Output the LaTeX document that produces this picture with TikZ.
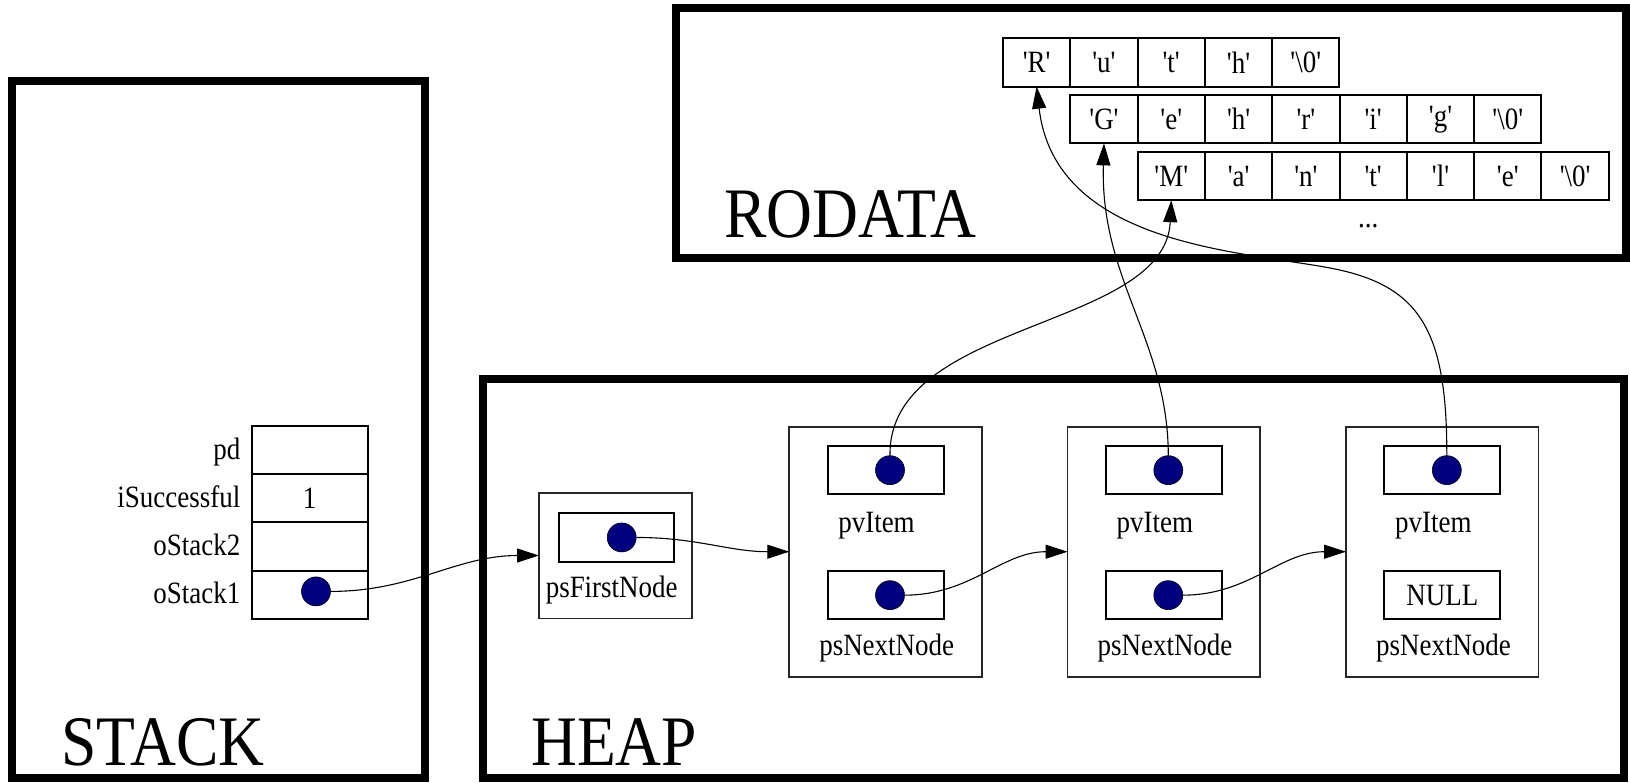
\documentclass[tikz,border=0pt]{standalone}
\usepackage{fontspec}
\setmainfont{Liberation Serif}
\newfontfamily\memfont[FakeStretch=0.87,Ligatures=TeXOff]{Liberation Serif}
\newfontfamily\regionfont[FakeStretch=0.895,Ligatures=TeXOff]{Liberation Serif}
\usepackage{tikz}
\usetikzlibrary{arrows.meta,positioning,calc}
\definecolor{dotblue}{RGB}{0,0,128}

\begin{document}
\begin{tikzpicture}[
    x=1pt, y=-1pt,
    regionbox/.style={draw=black, line width=8pt},
    regionlabel/.style={font=\regionfont\fontsize{71}{71}\selectfont, inner sep=0pt, anchor=base west},
    cellbox/.style={rectangle, draw=black, line width=2pt, minimum width=116pt, minimum height=48.3pt, inner sep=0pt, outer sep=0pt, font=\memfont\fontsize{31}{31}\selectfont},
    charcell/.style={rectangle, draw=black, line width=2pt, minimum width=67.3pt, minimum height=48.3pt, inner sep=0pt, outer sep=0pt, font=\memfont\fontsize{31}{31}\selectfont},
    listnode/.style={rectangle, draw=black!85, line width=1.6pt, minimum width=192.5pt, minimum height=250pt, inner sep=0pt, outer sep=0pt},
    fieldtext/.style={font=\memfont\fontsize{31}{31}\selectfont, inner sep=0pt},
    dotnode/.style={circle, draw=black, line width=0.6pt, fill=dotblue, minimum size=29pt, inner sep=0pt},
    arrow/.style={-{Triangle[length=22pt,width=14pt]}, line width=1.1pt}
]
    \useasboundingbox (0,0) rectangle (1630,782);

    % memory regions
    \draw [regionbox] (12,81) rectangle (425,778);
    \draw [regionbox] (483,379) rectangle (1624,778);
    \draw [regionbox] (676,8.3) rectangle (1626,257.5);
    \node [regionlabel] (stacklbl) at (61,765) {STACK};
    \node [regionlabel] (heaplbl) at (531,765) {HEAP};
    \node [regionlabel] (rodatalbl) at (724,237) {RODATA};

    % stack frame
    \node [cellbox] (pd) at (309.5,450) {};
    \node [cellbox, below=0pt of pd] (isucc) {1};
    \node [cellbox, below=0pt of isucc] (ostk2) {};
    \node [cellbox, below=0pt of ostk2] (ostk1) {};
    \node [fieldtext, anchor=base east] (pdlbl) at ([xshift=-11pt,yshift=-9pt]pd.west) {pd};
    \node [fieldtext, anchor=base east] (isucclbl) at ([xshift=-11pt,yshift=-9pt]isucc.west) {iSuccessful};
    \node [fieldtext, anchor=base east] (ostk2lbl) at ([xshift=-11pt,yshift=-9pt]ostk2.west) {oStack2};
    \node [fieldtext, anchor=base east] (ostk1lbl) at ([xshift=-11pt,yshift=-9pt]ostk1.west) {oStack1};
    \node [dotnode] (sdot) at ([xshift=6.5pt,yshift=3.5pt]ostk1.center) {};

    % heap: list head
    \node [listnode, minimum width=153pt, minimum height=125.6pt] (first) at (615.5,555.5) {};
    \node [cellbox, minimum width=115pt, below=20.6pt of first.north, xshift=1.2pt] (firstbox) {};
    \node [dotnode] (fdot) at ([xshift=5pt]firstbox.center) {};
    \node [fieldtext, anchor=base] (firstlbl) at ([xshift=-5pt,yshift=-36pt]firstbox.south) {psFirstNode};

    % heap: list nodes
    \node [listnode] (n1) at (885.5,551.7) {};
    \node [listnode, right=85.8pt of n1] (n2) {};
    \node [listnode, right=86pt of n2] (n3) {};

    \node [cellbox, below=19.3pt of n1.north] (item1) {};
    \node [cellbox, below=76.7pt of item1] (next1) {};
    \node [dotnode] (idot1) at ([xshift=4.5pt]item1.center) {};
    \node [dotnode] (ndot1) at ([xshift=4.5pt]next1.center) {};
    \node [fieldtext, anchor=base] (ilbl1) at ([xshift=-9pt,yshift=-37.7pt]item1.south) {pvItem};
    \node [fieldtext, anchor=base] (nlbl1) at ([xshift=1.2pt,yshift=-36pt]next1.south) {psNextNode};

    \node [cellbox, below=19.3pt of n2.north] (item2) {};
    \node [cellbox, below=76.7pt of item2] (next2) {};
    \node [dotnode] (idot2) at ([xshift=4.5pt]item2.center) {};
    \node [dotnode] (ndot2) at ([xshift=4.5pt]next2.center) {};
    \node [fieldtext, anchor=base] (ilbl2) at ([xshift=-9pt,yshift=-37.7pt]item2.south) {pvItem};
    \node [fieldtext, anchor=base] (nlbl2) at ([xshift=1.2pt,yshift=-36pt]next2.south) {psNextNode};

    \node [cellbox, below=19.3pt of n3.north] (item3) {};
    \node [cellbox, below=76.7pt of item3] (next3) {NULL};
    \node [dotnode] (idot3) at ([xshift=4.5pt]item3.center) {};
    \node [fieldtext, anchor=base] (ilbl3) at ([xshift=-9pt,yshift=-37.7pt]item3.south) {pvItem};
    \node [fieldtext, anchor=base] (nlbl3) at ([xshift=1.2pt,yshift=-36pt]next3.south) {psNextNode};

    % rodata strings
    \node [charcell] (r1) at (1036.6,62.5) {'R'};
    \node [charcell, right=0pt of r1] (r2) {'u'};
    \node [charcell, right=0pt of r2] (r3) {'t'};
    \node [charcell, right=0pt of r3] (r4) {'h'};
    \node [charcell, right=0pt of r4] (r5) {'\textbackslash 0'};

    \node [charcell] (g1) at (1104,119.2) {'G'};
    \node [charcell, right=0pt of g1] (g2) {'e'};
    \node [charcell, right=0pt of g2] (g3) {'h'};
    \node [charcell, right=0pt of g3] (g4) {'r'};
    \node [charcell, right=0pt of g4] (g5) {'i'};
    \node [charcell, right=0pt of g5] (g6) {'g'};
    \node [charcell, right=0pt of g6] (g7) {'\textbackslash 0'};

    \node [charcell] (m1) at (1171.3,176) {'M'};
    \node [charcell, right=0pt of m1] (m2) {'a'};
    \node [charcell, right=0pt of m2] (m3) {'n'};
    \node [charcell, right=0pt of m3] (m4) {'t'};
    \node [charcell, right=0pt of m4] (m5) {'l'};
    \node [charcell, right=0pt of m5] (m6) {'e'};
    \node [charcell, right=0pt of m6] (m7) {'\textbackslash 0'};
    \node [fieldtext, anchor=base] (more) at ([xshift=-5pt,yshift=-27pt]m4.south) {...};

    % pointers
    \draw [arrow] (sdot.east) to[out=0,in=180] (first.west);
    \draw [arrow] (fdot.east) to[out=0,in=180] (n1.west);
    \draw [arrow] (ndot1.east) to[out=0,in=180] (n2.west);
    \draw [arrow] (ndot2.east) to[out=0,in=180] (n3.west);
    \draw [arrow] (idot1.north) .. controls (888,320) and (1165,330) .. (m1.south);
    \draw [arrow] (idot2.north) .. controls (1168,340) and (1100,280) .. (g1.south);
    \draw [arrow] (idot3.north) .. controls (1447,330) and (1420,285) .. (1330,268)
        .. controls (1240,251) and (1055,245) .. (r1.south);
\end{tikzpicture}
\end{document}
